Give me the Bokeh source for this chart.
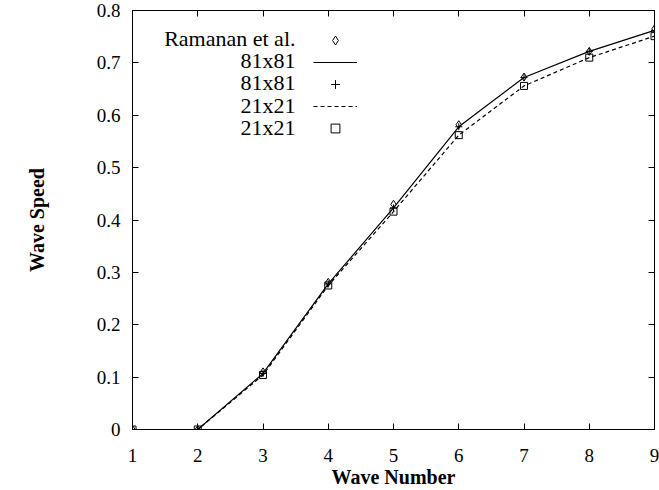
from bokeh.plotting import figure
from bokeh.models import (Range1d, FixedTicker, LinearAxis, Label, Legend, LegendItem,
                          CustomJSTickFormatter)
from bokeh.embed import file_html
from bokeh.resources import INLINE

# ---- data ----
wave_number = [1, 2, 3, 4, 5, 6, 7, 8, 9]
ramanan = [0.0, 0.0, 0.110, 0.281, 0.430, 0.582, 0.673, 0.722, 0.765]
grid81 = [0.0, 0.0, 0.107, 0.278, 0.423, 0.578, 0.672, 0.722, 0.762]
grid21 = [0.0, 0.0, 0.104, 0.275, 0.416, 0.562, 0.656, 0.710, 0.751]
xticks = [1, 2, 3, 4, 5, 6, 7, 8, 9]
yticks = [0.0, 0.1, 0.2, 0.3, 0.4, 0.5, 0.6, 0.7, 0.8]
ytick_labels = ["0", "0.1", "0.2", "0.3", "0.4", "0.5", "0.6", "0.7", "0.8"]
legend_labels = ["Ramanan et al.", "81x81", "81x81", "21x21", "21x21"]

FONT = "Liberation Serif"

p = figure(width=659, height=490, output_backend="svg", toolbar_location=None,
           x_range=Range1d(1, 9), y_range=Range1d(0, 0.8),
           min_border_left=132, min_border_right=5, min_border_top=10, min_border_bottom=58)
p.grid.visible = False
p.outline_line_color = "black"
p.outline_line_width = 1
p.background_fill_color = "white"
p.border_fill_color = "white"

# axes
xa = p.xaxis[0]
ya = p.yaxis[0]
xa.ticker = FixedTicker(ticks=xticks)
ya.ticker = FixedTicker(ticks=yticks)
ya.major_label_overrides = {t: l for t, l in zip(yticks, ytick_labels)}
for ax in (xa, ya):
    ax.major_tick_in = 6
    ax.major_tick_out = 0
    ax.minor_tick_line_color = None
    ax.axis_line_color = "black"
    ax.major_tick_line_color = "black"
    ax.major_label_text_font = FONT
    ax.major_label_text_font_size = "19px"
    ax.major_label_text_color = "black"
    ax.axis_label_text_font = FONT
    ax.axis_label_text_font_size = "20px"
    ax.axis_label_text_font_style = "bold"
    ax.axis_label_text_color = "black"
xa.axis_label = "Wave Number"
ya.axis_label = "Wave Speed"
xa.major_label_standoff = 19
xa.axis_label_standoff = 1
ya.major_label_standoff = 12
ya.axis_label_standoff = 46

# mirrored axes top/right (ticks only)
top = LinearAxis(ticker=FixedTicker(ticks=xticks))
right = LinearAxis(ticker=FixedTicker(ticks=yticks))
for ax in (top, right):
    ax.major_tick_in = 6
    ax.major_tick_out = 0
    ax.minor_tick_line_color = None
    ax.formatter = CustomJSTickFormatter(code="return ''")
    ax.major_label_text_font_size = "1px"
    ax.major_label_standoff = 0
    ax.axis_line_color = "black"
p.add_layout(top, "above")
p.add_layout(right, "right")

# data
r_line81 = p.line(wave_number, grid81, line_color="black", line_width=1.2)
r_line21 = p.line(wave_number, grid21, line_color="black", line_width=1.2, line_dash="4 3")
r_plus81 = p.scatter(wave_number, grid81, marker="cross", size=7, line_color="black", line_width=1)
r_sq21 = p.scatter(wave_number, grid21, marker="square", size=7, line_color="black",
                   fill_color=None, line_width=1)
r_dia = p.scatter(wave_number, ramanan, marker="diamond", size=8, line_color="black",
                  fill_color=None, line_width=1)

# legend: glyph keys on the right, labels (right-aligned text) on the left
renderers = [r_dia, r_line81, r_plus81, r_line21, r_sq21]
items = [LegendItem(label=" ", renderers=[r]) for r in renderers]
leg = Legend(items=items, location=(181, 290), orientation="vertical",
             glyph_width=44, glyph_height=22, label_height=22, label_width=0,
             label_standoff=0, spacing=0, padding=0, margin=0,
             border_line_alpha=0, background_fill_alpha=0,
             label_text_font_size="6px")
p.add_layout(leg, "center")

row_y = [391, 369, 347, 324, 302]
for txt, yy in zip(legend_labels, row_y):
    p.add_layout(Label(x=163, y=yy, x_units="screen", y_units="screen", text=txt,
                       text_align="right", text_baseline="middle",
                       text_font=FONT, text_font_size="22px", text_color="black"))

open("out.html", "w").write(file_html(p, INLINE))
